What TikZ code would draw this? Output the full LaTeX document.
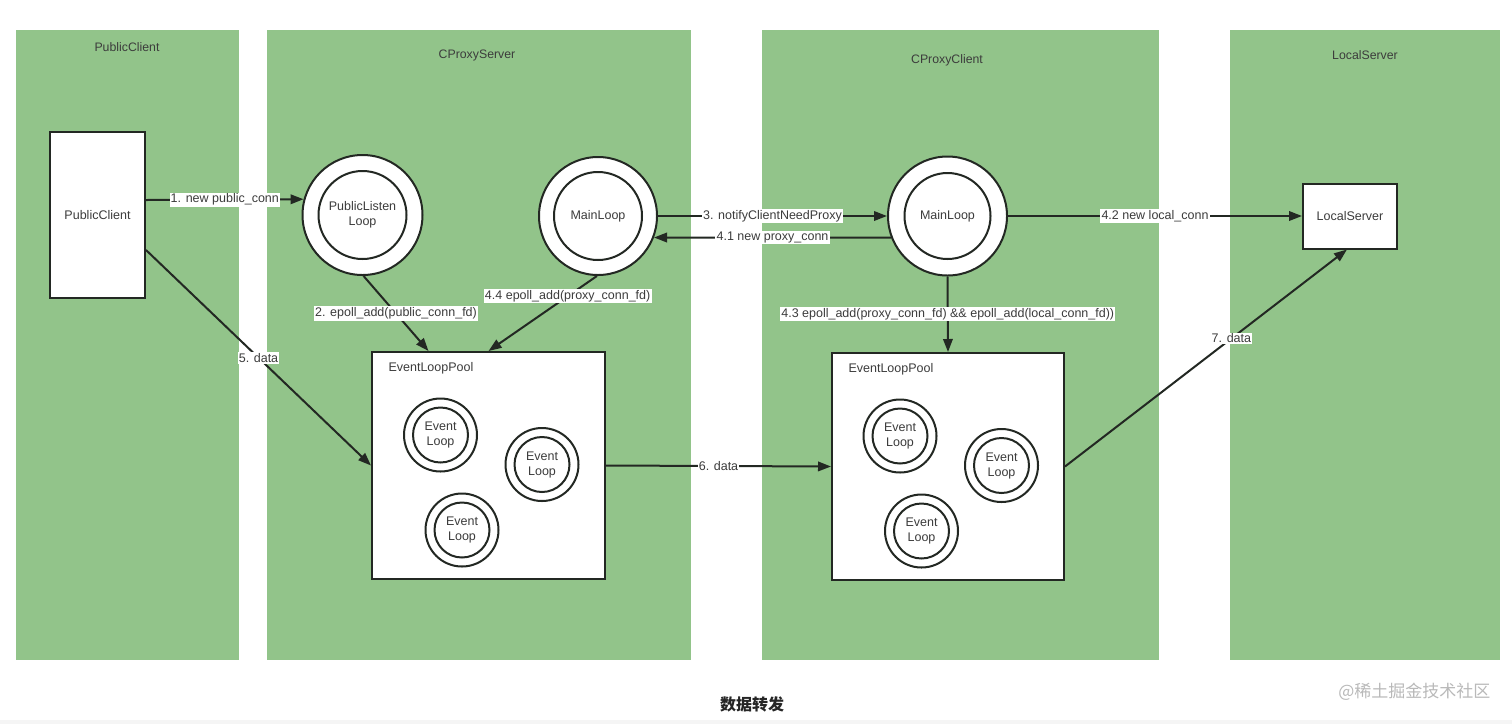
\documentclass[tikz,border=0pt]{standalone}
\usepackage{fontspec}
\setmainfont{Liberation Sans}
\newfontfamily\cjk{Noto Sans CJK SC}
\usetikzlibrary{arrows.meta}
\definecolor{panelgreen}{RGB}{146,196,138}
\definecolor{txt}{RGB}{60,60,60}
\definecolor{ln}{RGB}{35,40,35}
\definecolor{wm}{RGB}{185,185,185}
\tikzset{
  panel/.style={fill=panelgreen, draw=none},
  ptitle/.style={text=txt, font=\fontsize{12.3}{14}\selectfont},
  wbox/.style={draw=ln, line width=2pt, fill=white, text=txt, font=\fontsize{12.5}{14}\selectfont},
  outerc/.style={circle, draw=ln, line width=2pt, fill=white, inner sep=0pt},
  innerc/.style={circle, draw=ln, line width=2pt, fill=white, inner sep=0pt, text=txt, align=center, font=\fontsize{12.5}{15}\selectfont},
  conn/.style={draw=ln, line width=2pt, -{Triangle[length=13pt,width=9.5pt]}},
  lbl/.style={fill=white, inner sep=1.2pt, text=txt, font=\fontsize{12.5}{14}\selectfont},
}
\begin{document}
\begin{tikzpicture}[x=1pt,y=-1pt]
\useasboundingbox (0,0) rectangle (1512,724);
\fill[white] (0,0) rectangle (1512,724);
\fill[gray!8] (0,720) rectangle (1512,724);
% panels
\fill[panel] (16,30) rectangle (239,660);
\fill[panel] (267,30) rectangle (691,660);
\fill[panel] (762,30) rectangle (1159,660);
\fill[panel] (1230,30) rectangle (1500,660);
\node[ptitle] (t1) at (127,47) {PublicClient};
\node[ptitle] (t2) at (477,55) {CProxyServer};
\node[ptitle] (t3) at (947,60) {CProxyClient};
\node[ptitle] (t4) at (1365,55) {LocalServer};
% boxes
\node[wbox, minimum width=95pt, minimum height=166pt] (pc) at (97.5,215) {PublicClient};
\node[wbox, minimum width=94pt, minimum height=65pt] (ls) at (1350,216) {LocalServer};
% pools
\node[wbox, minimum width=233pt, minimum height=227pt] (pool1) at (488.5,465.5) {};
\node[text=txt, font=\fontsize{12.5}{14}\selectfont, anchor=west] (pl1) at (385,368) {EventLoopPool};
\node[wbox, minimum width=232pt, minimum height=227pt] (pool2) at (948,466.5) {};
\node[text=txt, font=\fontsize{12.5}{14}\selectfont, anchor=west] (pl2) at (845,369) {EventLoopPool};
% big circles
\node[outerc, minimum size=120pt] (plo) at (362.5,215) {};
\node[innerc, minimum size=88pt] (pli) at (362.5,215) {PublicListen\\Loop};
\node[outerc, minimum size=118pt] (ml1) at (598,216) {};
\node[innerc, minimum size=88pt] (ml1i) at (598,216) {MainLoop};
\node[outerc, minimum size=119pt] (ml2) at (947.5,216) {};
\node[innerc, minimum size=86pt] (ml2i) at (947.5,216) {MainLoop};
% event loops
\foreach \n/\x/\y in {a/440.5/435, b/542/464.5, c/462/530, d/900/436, e/1001.5/465.5, f/921.5/531}{
  \node[outerc, minimum size=73pt] (el\n) at (\x,\y) {};
  \node[innerc, minimum size=55pt] (eli\n) at (\x,\y) {Event\\Loop};
}
% connectors
\draw[conn] ([yshift=15pt]pc.east) -- node[lbl] {1. new public\_conn} (plo.165.5);
\draw[conn] (plo.-89) -- node[lbl] {2. epoll\_add(public\_conn\_fd)} ([xshift=-60pt]pool1.north);
\draw[conn] (ml1.east) -- node[lbl] {3. notifyClientNeedProxy} (ml2.west);
\draw[conn] (ml2.201.7) -- node[lbl] {4.1 new proxy\_conn} (ml1.-21.7);
\draw[conn] (ml2.east) -- node[lbl] {4.2 new local\_conn} (ls.west);
\draw[conn] (ml2.south) -- node[lbl] {4.3 epoll\_add(proxy\_conn\_fd) \&\& epoll\_add(local\_conn\_fd))} (pool2.north);
\draw[conn] (ml1.-91) -- node[lbl, pos=0.27] {4.4 epoll\_add(proxy\_conn\_fd)} (pool1.north);
\draw[conn] ([yshift=-35pt]pc.east) -- node[lbl] {5. data} (pool1.west);
\draw[conn] (pool1.east) -- node[lbl] {6. data} (pool2.west);
\draw[conn] (pool2.east) -- node[lbl, pos=0.59] {7. data} ([xshift=-3pt]ls.south);
% caption and watermark
\node[font=\cjk\fontsize{16}{18}\selectfont\bfseries, text=black!85] (cap) at (752,704) {数据转发};
\node[font=\cjk\fontsize{17}{19}\selectfont, text=wm, anchor=east] (wmk) at (1494,692) {@稀土掘金技术社区};
\end{tikzpicture}
\end{document}
